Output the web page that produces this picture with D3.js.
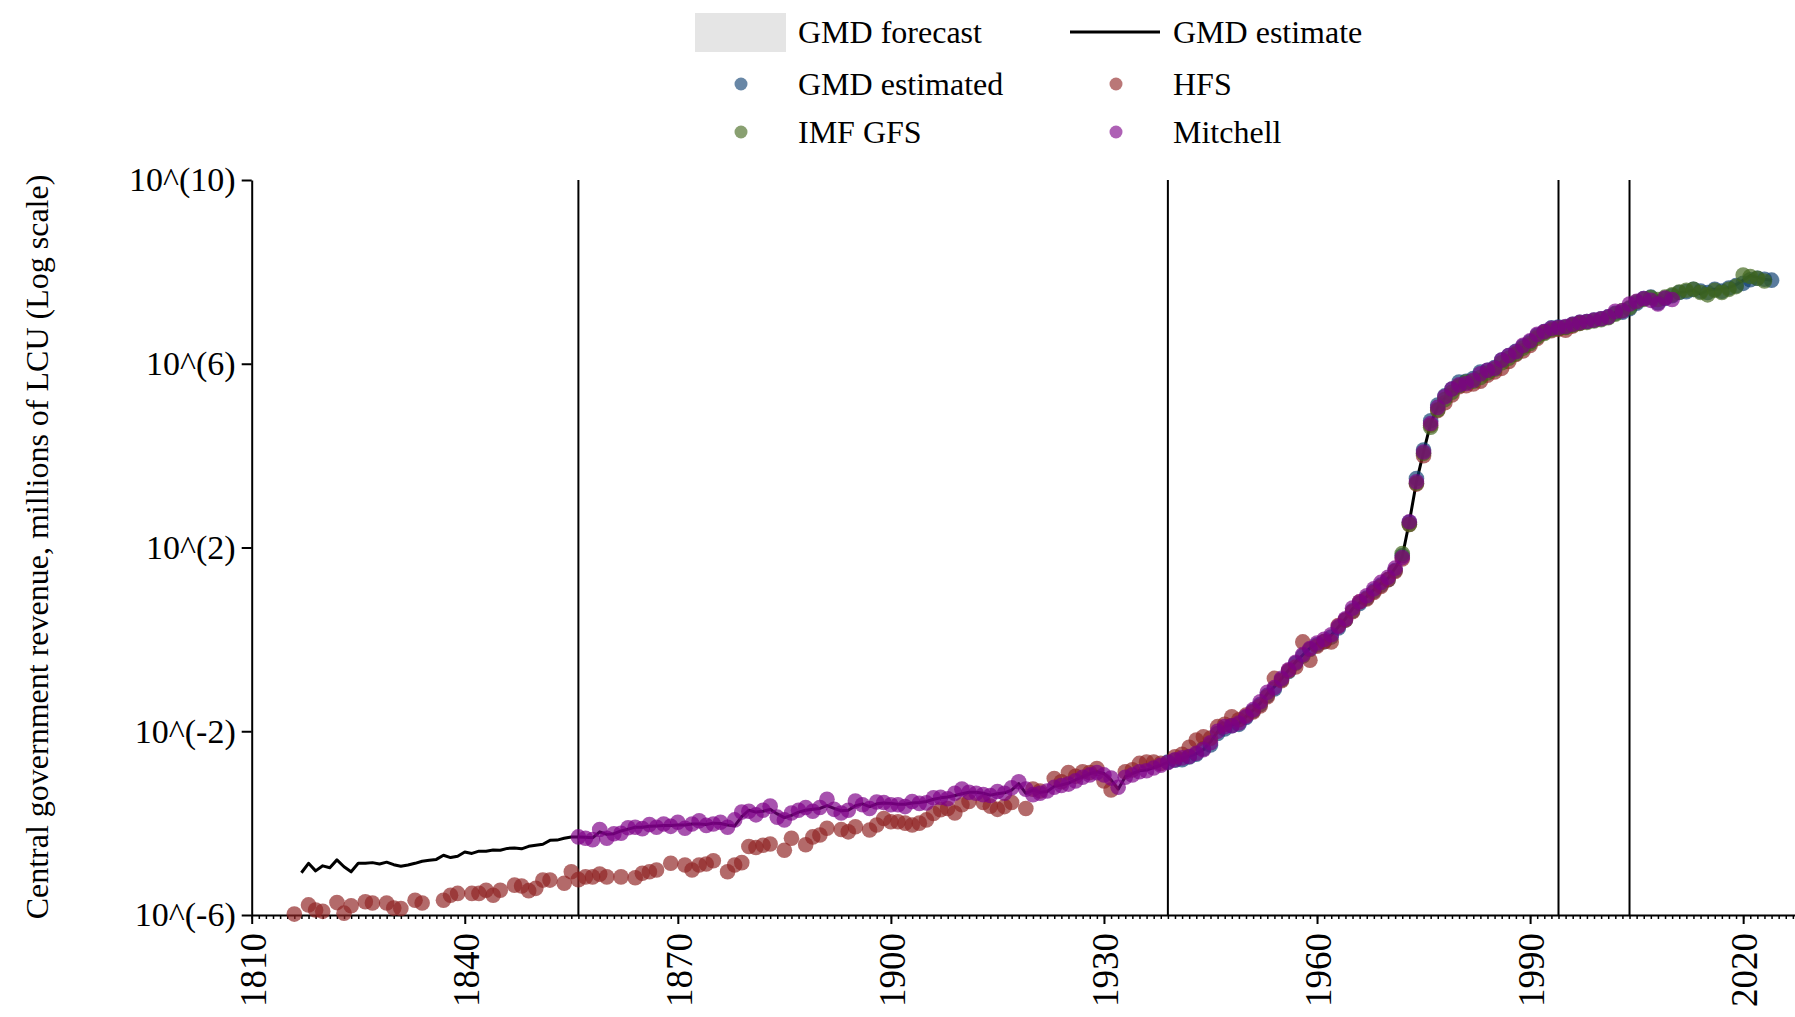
<!DOCTYPE html>
<html><head><meta charset="utf-8">
<script src="https://cdn.jsdelivr.net/npm/d3@7"></script>
<style>
body{margin:0;background:#fff}
svg{display:block}
text{font-family:"Liberation Serif","Times New Roman",serif;fill:#000}
</style>
</head><body>
<svg id="c" width="1795" height="1017"></svg>
<script>
// ---- data (values are log10 of revenue, millions of LCU) ----
const yTickExps = [-6, -2, 2, 6, 10];
const xTickYears = [1810, 1840, 1870, 1900, 1930, 1960, 1990, 2020];
const breakYears = [1856, 1939, 1994, 2004];
const legendNames = ["GMD forecast", "GMD estimate", "GMD estimated", "HFS", "IMF GFS", "Mitchell"];

const gmdEstimate = [
[1817,-5.08],[1818,-4.875],[1819,-5.04],[1820,-4.93],[1821,-4.97],[1822,-4.80],[1823,-4.95],[1824,-5.06],[1825,-4.875],[1826,-4.875],
[1827,-4.86],[1828,-4.89],[1829,-4.85],[1830,-4.905],[1831,-4.94],[1832,-4.91],[1833,-4.875],[1834,-4.83],[1835,-4.81],[1836,-4.79],
[1837,-4.70],[1838,-4.75],[1839,-4.72],[1840,-4.63],[1841,-4.66],[1842,-4.61],[1843,-4.61],[1844,-4.585],[1845,-4.59],[1846,-4.55],
[1847,-4.54],[1848,-4.56],[1849,-4.505],[1850,-4.48],[1851,-4.46],[1852,-4.375],[1853,-4.37],[1854,-4.33],[1855,-4.30],[1856,-4.30],
[1857,-4.31],[1858,-4.32],[1859,-4.19],[1860,-4.245],[1861,-4.23],[1862,-4.17],[1863,-4.13],[1864,-4.09],[1865,-4.09],[1866,-4.07],
[1867,-4.06],[1868,-4.05],[1869,-4.05],[1870,-4.04],[1871,-4.04],[1872,-4.02],[1873,-4.02],[1874,-4.03],[1875,-4.00],[1876,-4.01],
[1877,-4.04],[1878,-4.06],[1879,-3.86],[1880,-3.72],[1881,-3.76],[1882,-3.74],[1883,-3.70],[1884,-3.80],[1885,-3.88],[1886,-3.83],
[1887,-3.76],[1888,-3.72],[1889,-3.70],[1890,-3.68],[1891,-3.62],[1892,-3.68],[1893,-3.73],[1894,-3.72],[1895,-3.62],[1896,-3.58],
[1897,-3.64],[1898,-3.58],[1899,-3.56],[1900,-3.57],[1901,-3.59],[1902,-3.59],[1903,-3.56],[1904,-3.55],[1905,-3.53],[1906,-3.48],
[1907,-3.45],[1908,-3.43],[1909,-3.40],[1910,-3.36],[1911,-3.33],[1912,-3.33],[1913,-3.35],[1914,-3.39],[1915,-3.36],[1916,-3.34],
[1917,-3.28],[1918,-3.14],[1919,-3.35],[1920,-3.28],[1921,-3.33],[1922,-3.31],[1923,-3.20],[1924,-3.17],[1925,-3.13],[1926,-3.06],
[1927,-2.99],[1928,-2.92],[1929,-2.88],[1930,-2.92],[1931,-3.06],[1932,-3.26],[1933,-2.99],[1934,-2.92],[1935,-2.86],[1936,-2.845],
[1937,-2.79],[1938,-2.74],[1939,-2.67],[1940,-2.63],[1941,-2.59],[1942,-2.54],[1943,-2.49],[1944,-2.40],[1945,-2.23],[1946,-2.01],
[1947,-1.90],[1948,-1.86],[1949,-1.83],[1950,-1.68],[1951,-1.54],[1952,-1.39],[1953,-1.18],[1954,-1.03],[1955,-0.85],[1956,-0.67],
[1957,-0.49],[1958,-0.34],[1959,-0.19],[1960,-0.09],[1961,-0.02],[1962,0.09],[1963,0.27],[1964,0.45],[1965,0.67],[1966,0.80],
[1967,0.93],[1968,1.08],[1969,1.22],[1970,1.33],[1971,1.55],[1972,1.80],[1973,2.56],[1974,3.43],[1975,4.08],[1976,4.70],
[1977,5.05],[1978,5.25],[1979,5.40],[1980,5.52],[1981,5.58],[1982,5.64],[1983,5.78],[1984,5.84],[1985,5.88],[1986,6.05],
[1987,6.15],[1988,6.24],[1989,6.36],[1990,6.45],[1991,6.60],[1992,6.68],[1993,6.76],[1994,6.78],[1995,6.80],[1996,6.85],
[1997,6.89],[1998,6.91],[1999,6.93],[2000,6.97],[2001,7.00],[2002,7.12],[2003,7.15],[2004,7.25],[2005,7.36],[2006,7.40],
[2007,7.43],[2008,7.38],[2009,7.43],[2010,7.48],[2011,7.55],[2012,7.57],[2013,7.60],[2014,7.52],[2015,7.60],[2016,7.62],
[2017,7.63],[2018,7.66],[2019,7.72],[2020,7.82],[2021,7.92],[2022,7.88],[2023,7.84],[2024,7.82]
];

const gmdEstimated = [
[1939,-2.67],[1940,-2.63],[1941,-2.62],[1942,-2.56],[1943,-2.50],[1944,-2.38],[1945,-2.30],[1946,-2.05],[1947,-1.95],[1948,-1.88],
[1949,-1.85],[1950,-1.70],[1951,-1.56],[1952,-1.42],[1953,-1.22],[1954,-1.08],[1955,-0.88],[1956,-0.70],[1957,-0.52],[1958,-0.36],
[1959,-0.22],[1960,-0.12],[1961,-0.05],[1962,0.05],[1963,0.25],[1964,0.42],[1965,0.62],[1966,0.78],[1967,0.90],[1968,1.05],
[1969,1.18],[1970,1.30],[1971,1.50],[1972,1.82],[1973,2.55],[1974,3.50],[1975,4.12],[1976,4.76],[1977,5.10],[1978,5.30],
[1979,5.45],[1980,5.60],[1981,5.62],[1982,5.68],[1983,5.82],[1984,5.86],[1985,5.92],[1986,6.08],[1987,6.18],[1988,6.27],
[1989,6.38],[1990,6.48],[1991,6.62],[1992,6.70],[1993,6.78],[1994,6.80],[1995,6.80],[1996,6.86],[1997,6.90],[1998,6.92],
[1999,6.95],[2000,6.98],[2001,7.02],[2002,7.10],[2003,7.12],[2004,7.20],[2005,7.32],[2006,7.42],[2007,7.45],[2008,7.33],
[2009,7.42],[2010,7.48],[2011,7.55],[2012,7.57],[2013,7.62],[2014,7.58],[2015,7.55],[2016,7.62],[2017,7.58],[2018,7.65],
[2019,7.70],[2020,7.75],[2021,7.83],[2022,7.86],[2023,7.84],[2024,7.82]
];

const hfs = [
[1816,-5.98],[1818,-5.78],[1819,-5.89],[1820,-5.92],[1822,-5.73],[1823,-5.96],[1824,-5.80],[1826,-5.71],[1827,-5.74],[1829,-5.74],
[1830,-5.85],[1831,-5.86],[1833,-5.68],[1834,-5.74],[1837,-5.68],[1838,-5.57],[1839,-5.53],[1841,-5.53],[1842,-5.53],[1843,-5.46],
[1844,-5.57],[1845,-5.46],[1847,-5.35],[1848,-5.37],[1849,-5.47],[1850,-5.42],[1851,-5.24],[1852,-5.24],[1854,-5.31],[1855,-5.06],
[1856,-5.23],[1857,-5.17],[1858,-5.17],[1859,-5.11],[1860,-5.17],[1862,-5.17],[1864,-5.19],[1865,-5.09],[1866,-5.06],[1867,-5.02],
[1869,-4.875],[1871,-4.91],[1872,-5.02],[1873,-4.91],[1874,-4.89],[1875,-4.82],[1877,-5.06],[1878,-4.91],[1879,-4.86],[1880,-4.51],
[1881,-4.53],[1882,-4.48],[1883,-4.455],[1885,-4.59],[1886,-4.33],[1888,-4.47],[1889,-4.30],[1890,-4.26],[1891,-4.11],[1893,-4.14],
[1894,-4.19],[1895,-4.08],[1897,-4.15],[1898,-4.04],[1899,-3.90],[1900,-3.97],[1901,-3.97],[1902,-4.00],[1903,-4.04],[1904,-4.00],
[1905,-3.93],[1906,-3.79],[1907,-3.71],[1908,-3.68],[1909,-3.78],[1910,-3.60],[1911,-3.53],[1913,-3.55],[1914,-3.63],[1915,-3.70],
[1916,-3.64],[1917,-3.55],[1919,-3.68],[1920,-3.26],[1921,-3.30],[1923,-3.03],[1924,-3.10],[1925,-2.90],[1926,-2.98],[1927,-2.88],
[1928,-2.90],[1929,-2.81],[1930,-3.08],[1931,-3.28],[1933,-2.88],[1934,-2.84],[1935,-2.70],[1936,-2.67],[1937,-2.67],[1938,-2.70],
[1940,-2.555],[1941,-2.50],[1942,-2.35],[1943,-2.19],[1944,-2.12],[1945,-2.15],[1946,-1.90],[1947,-1.85],[1948,-1.685],[1949,-1.75],
[1950,-1.65],[1951,-1.58],[1952,-1.45],[1953,-1.25],[1954,-0.85],[1955,-0.90],[1956,-0.68],[1957,-0.60],[1958,-0.055],[1959,-0.455],
[1960,-0.15],[1961,-0.05],[1962,-0.055],[1963,0.30],[1964,0.42],[1965,0.60],[1966,0.82],[1967,0.88],[1968,1.02],[1969,1.15],
[1970,1.30],[1971,1.48],[1972,1.75],[1973,2.50],[1974,3.38],[1975,4.00],[1976,4.66],[1977,4.98],[1978,5.15],[1979,5.32],
[1980,5.50],[1981,5.52],[1982,5.56],[1983,5.62],[1984,5.75],[1985,5.82],[1986,5.90],[1987,6.05],[1988,6.20],[1989,6.28],
[1990,6.40],[1991,6.55],[1992,6.68],[1993,6.72],[1994,6.75],[1995,6.73],[1996,6.82],[1997,6.88]
];

const imfGfs = [
[1972,1.87],[1973,2.50],[1974,3.40],[1975,4.05],[1976,4.62],[1977,5.00],[1978,5.22],[1979,5.38],[1980,5.52],
[1981,5.60],[1982,5.62],[1983,5.70],[1984,5.80],[1985,5.88],[1986,6.02],[1987,6.12],[1988,6.22],[1989,6.34],[1990,6.44],
[1991,6.58],[1992,6.66],[1993,6.74],[1994,6.77],[1995,6.79],[1996,6.84],[1997,6.88],[1998,6.90],[1999,6.93],[2000,6.96],
[2001,7.00],[2002,7.08],[2003,7.16],[2004,7.22],[2005,7.35],[2006,7.40],[2007,7.44],[2008,7.40],[2009,7.45],[2010,7.50],
[2011,7.56],[2012,7.60],[2013,7.62],[2014,7.55],[2015,7.50],[2016,7.60],[2017,7.55],[2018,7.62],[2019,7.68],[2020,7.93],
[2021,7.90],[2022,7.86],[2023,7.80]
];

const mitchell = [
[1856,-4.30],[1857,-4.33],[1858,-4.36],[1859,-4.14],[1860,-4.33],[1861,-4.23],[1862,-4.22],[1863,-4.10],[1864,-4.09],[1865,-4.12],
[1866,-4.03],[1867,-4.09],[1868,-4.02],[1869,-4.07],[1870,-3.98],[1871,-4.11],[1872,-4.02],[1873,-3.95],[1874,-4.05],[1875,-4.02],
[1876,-3.98],[1877,-4.09],[1878,-3.93],[1879,-3.76],[1880,-3.74],[1881,-3.82],[1882,-3.72],[1883,-3.63],[1884,-3.87],[1885,-3.93],
[1886,-3.78],[1887,-3.72],[1888,-3.66],[1889,-3.74],[1890,-3.66],[1891,-3.48],[1892,-3.70],[1893,-3.78],[1894,-3.72],[1895,-3.52],
[1896,-3.60],[1897,-3.68],[1898,-3.54],[1899,-3.55],[1900,-3.60],[1901,-3.60],[1902,-3.64],[1903,-3.53],[1904,-3.57],[1905,-3.56],
[1906,-3.45],[1907,-3.44],[1908,-3.47],[1909,-3.35],[1910,-3.26],[1911,-3.33],[1912,-3.35],[1913,-3.38],[1914,-3.40],[1915,-3.31],
[1916,-3.35],[1917,-3.23],[1918,-3.10],[1919,-3.26],[1920,-3.38],[1921,-3.35],[1922,-3.30],[1923,-3.22],[1924,-3.18],[1925,-3.15],
[1926,-3.08],[1927,-3.00],[1928,-2.95],[1929,-2.90],[1930,-2.95],[1931,-3.02],[1932,-3.22],[1933,-3.00],[1934,-2.95],[1935,-2.88],
[1936,-2.86],[1937,-2.80],[1938,-2.74],[1939,-2.68],[1940,-2.62],[1941,-2.58],[1942,-2.55],[1943,-2.48],[1944,-2.40],[1945,-2.25],
[1946,-2.00],[1947,-1.90],[1948,-1.88],[1949,-1.82],[1950,-1.68],[1951,-1.53],[1952,-1.36],[1953,-1.15],[1954,-1.05],[1955,-0.85],
[1956,-0.66],[1957,-0.50],[1958,-0.33],[1959,-0.20],[1960,-0.08],[1961,0.00],[1962,0.10],[1963,0.28],[1964,0.45],[1965,0.68],
[1966,0.82],[1967,0.95],[1968,1.10],[1969,1.24],[1970,1.35],[1971,1.55],[1972,1.78],[1973,2.56],[1974,3.43],[1975,4.08],
[1976,4.70],[1977,5.05],[1978,5.28],[1979,5.45],[1980,5.54],[1981,5.57],[1982,5.64],[1983,5.78],[1984,5.86],[1985,5.90],
[1986,6.08],[1987,6.18],[1988,6.26],[1989,6.40],[1990,6.50],[1991,6.64],[1992,6.70],[1993,6.77],[1994,6.79],[1995,6.81],
[1996,6.86],[1997,6.90],[1998,6.92],[1999,6.95],[2000,6.98],[2001,7.02],[2002,7.14],[2003,7.15],[2004,7.30],[2005,7.36],
[2006,7.42],[2007,7.38],[2008,7.30],[2009,7.43],[2010,7.40]
];

const colors = {est: "#0c3e70", hfs: "#8f2424", imf: "#40661a", mit: "#7d0087"};

// ---- scales ----
const svg = d3.select("#c");
const x = d3.scaleLinear().domain([1810, 2027.3]).range([251.7, 1795]);
const y = d3.scaleLog().domain([1e-6, 1e10]).range([915, 180]);
const Y = v => y(Math.pow(10, v));

// ---- axes ----
const yAxis = d3.axisLeft(y)
  .tickValues(yTickExps.map(e => Math.pow(10, e)))
  .tickFormat(d => `10^(${Math.round(Math.log10(d))})`)
  .tickSize(10).tickSizeOuter(0).tickPadding(6);
const gy = svg.append("g").attr("transform", "translate(251.7,0)").call(yAxis);
gy.attr("font-family", null);
gy.select(".domain").attr("stroke-width", 2);
gy.selectAll(".tick line").attr("stroke-width", 2);
gy.selectAll(".tick text").style("font-size", "34px").style("font-family", '"Liberation Serif",serif');

const minorAxis = d3.axisBottom(x).tickValues(d3.range(1810, 2028)).tickSize(4).tickSizeOuter(0).tickFormat("");
const gm = svg.append("g").attr("transform", "translate(0,915)").call(minorAxis);
gm.select(".domain").attr("stroke-width", 2);
gm.selectAll(".tick line").attr("stroke-width", 1.5);

const majorAxis = d3.axisBottom(x).tickValues(xTickYears).tickSize(9).tickSizeOuter(0).tickFormat(d3.format("d"));
const gx = svg.append("g").attr("transform", "translate(0,915)").call(majorAxis);
gx.attr("font-family", null);
gx.select(".domain").remove();
gx.selectAll(".tick line").attr("stroke-width", 2);
gx.selectAll(".tick text")
  .attr("transform", "translate(0,18) rotate(-90)")
  .attr("x", 0).attr("y", 0).attr("dy", "0.36em")
  .style("text-anchor", "end")
  .style("font-size", "37px").style("font-family", '"Liberation Serif",serif');

// axis title
svg.append("text")
  .attr("transform", "translate(37,547) rotate(-90)")
  .attr("text-anchor", "middle").attr("dy", "0.35em")
  .style("font-size", "32px")
  .text("Central government revenue, millions of LCU (Log scale)");

// break lines
svg.append("g").selectAll("line").data(breakYears).join("line")
  .attr("x1", d => x(d)).attr("x2", d => x(d))
  .attr("y1", y(1e10)).attr("y2", y(1e-6))
  .attr("stroke", "#000").attr("stroke-width", 2);

// GMD estimate line
const line = d3.line().x(d => x(d[0])).y(d => Y(d[1]));
svg.append("path").datum(gmdEstimate)
  .attr("d", line).attr("fill", "none")
  .attr("stroke", "#000").attr("stroke-width", 3).attr("stroke-linejoin", "round");

// points
function dots(data, col) {
  svg.append("g").selectAll("circle").data(data).join("circle")
    .attr("cx", d => x(d[0])).attr("cy", d => Y(d[1])).attr("r", 7.8)
    .attr("fill", col).attr("fill-opacity", 0.68);
}
dots(gmdEstimated, colors.est);
dots(hfs, colors.hfs);
dots(imfGfs, colors.imf);
dots(mitchell, colors.mit);

// legend
const lg = svg.append("g").style("font-size", "32px");
lg.append("rect").attr("x", 695).attr("y", 13).attr("width", 91).attr("height", 39).attr("fill", "#e5e5e5");
lg.append("line").attr("x1", 1070).attr("x2", 1160).attr("y1", 32).attr("y2", 32).attr("stroke", "#000").attr("stroke-width", 3);
const items = [
  {t: legendNames[0], x: 798, y: 32},
  {t: legendNames[1], x: 1173, y: 32},
  {t: legendNames[2], x: 798, y: 84, c: colors.est, cx: 741},
  {t: legendNames[3], x: 1173, y: 84, c: colors.hfs, cx: 1116},
  {t: legendNames[4], x: 798, y: 132, c: colors.imf, cx: 741},
  {t: legendNames[5], x: 1173, y: 132, c: colors.mit, cx: 1116}
];
items.forEach(it => {
  lg.append("text").attr("x", it.x).attr("y", it.y).attr("dy", "0.35em").text(it.t);
  if (it.c) lg.append("circle").attr("cx", it.cx).attr("cy", it.y).attr("r", 6.5).attr("fill", it.c).attr("fill-opacity", 0.62);
});
</script>
</body></html>
